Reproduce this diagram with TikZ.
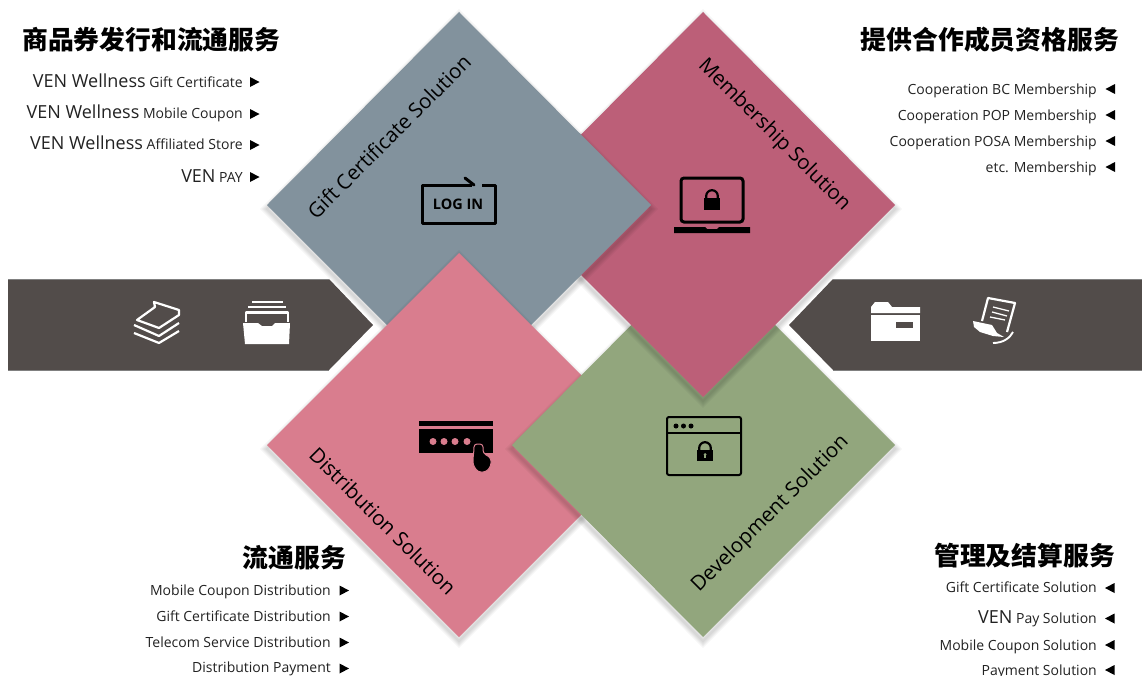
\documentclass[tikz,border=0pt]{standalone}
\usepackage{fontspec}
\setmainfont{Open Sans}
\newfontfamily\cjk{Noto Sans CJK SC}
\definecolor{cblue}{HTML}{82929D}
\definecolor{ccrim}{HTML}{BC5F78}
\definecolor{cpink}{HTML}{D97D8E}
\definecolor{cgreen}{HTML}{92A67D}
\definecolor{cband}{HTML}{524C4A}
\definecolor{ctext}{HTML}{222222}
\newcommand{\BG}[1]{{\fontsize{18}{18}\selectfont #1}}
\newcommand{\SM}[1]{{\fontsize{14}{14}\selectfont #1}}
\newcommand{\softedge}[1]{\foreach \w in {2,4,...,10}{\draw[black,draw opacity=.03,line width=\w pt,shift={(0,4)}] #1;}}
\newcommand{\arrR}[2]{\fill[black] (#1,#2-5) -- (#1+9.5,#2) -- (#1,#2+5) -- cycle;}
\newcommand{\arrL}[2]{\fill[black] (#1+9.5,#2-5) -- (#1,#2) -- (#1+9.5,#2+5) -- cycle;}
\newcommand{\lockicon}[5]{% x0 y0 x1 y1 colour
  \fill[#5] (#1,#2) rectangle (#3,#4);
  \draw[#5,line width=2.2pt] (#1+2.2,#2) -- (#1+2.2,#2-2) arc[start angle=180,end angle=360,radius={(#3-#1)/2-2.2}] -- (#3-2.2,#2);}
\tikzset{
  x=1pt,y=-1pt,
  listitem/.style={anchor=base east,inner sep=0pt,text=ctext,font=\fontsize{14}{14}\selectfont},
  titletext/.style={inner sep=0pt,text=black,font=\cjk\bfseries\fontsize{25.8}{26}\selectfont},
  soltext/.style={inner sep=0pt,text=black,font=\fontsize{20.5}{21}\selectfont},
  whiteline/.style={white,line width=2.2pt,line join=round},
  blackline/.style={black,line width=3pt,line join=round}
}
\begin{document}
\begin{tikzpicture}
\useasboundingbox (0,0) rectangle (1142,675);
\fill[white] (0,0) rectangle (1142,675);
% bands
\fill[cband] (8,279) -- (329,279) -- (373,325) -- (329,370) -- (8,370) -- cycle;
\fill[cband] (1142,279) -- (833,279) -- (789,325) -- (833,370) -- (1142,370) -- cycle;
\draw[gray,line width=.7pt] (8,279) -- (329,279) (8,370) -- (329,370) (1142,279) -- (833,279) (1142,370) -- (833,370);
% blue
\softedge{(459,12) -- (651,205) -- (459,397) -- (267,205) -- cycle}
\fill[cblue] (459,12) -- (651,205) -- (459,397) -- (267,205) -- cycle;
% pink
\softedge{(459,253) -- (651,445) -- (459,637) -- (267,445) -- cycle}
\fill[cpink] (459,253) -- (651,445) -- (459,637) -- (267,445) -- cycle;
% green
\softedge{(703,253) -- (895,445) -- (703,637) -- (512,445) -- cycle}
\fill[cgreen] (703,253) -- (895,445) -- (703,637) -- (512,445) -- cycle;
% crimson: its shadow stays off the blue square
\begin{scope}
\clip (459,12) -- (651,205) -- (531,325) -- (660,455) -- (1000,455) -- (1000,-50) -- (459,-50) -- cycle;
\softedge{(703,12) -- (895,205) -- (703,397) -- (511,205) -- cycle}
\end{scope}
\fill[ccrim] (703,12) -- (895,205) -- (703,397) -- (511,205) -- cycle;
% blue over crimson
\begin{scope}
\clip (703,12) -- (895,205) -- (703,397) -- (511,205) -- cycle;
\softedge{(459,12) -- (651,205) -- (459,397) -- (267,205) -- cycle}
\end{scope}
\begin{scope}
\clip (703,9) -- (898,205) -- (703,400) -- (508,205) -- cycle;
\fill[cblue] (459,12) -- (651,205) -- (459,397) -- (267,205) -- cycle;
\end{scope}
% solution labels
\node[soltext,rotate=45] (solgift) at (389,136.5) {Gift Certificate Solution};
\node[soltext,rotate=-45] (solmem) at (774,135) {Membership Solution};
\node[soltext,rotate=-45] (soldist) at (383,521) {Distribution Solution};
\node[soltext,rotate=45] (soldev) at (770.5,514) {Development Solution};
% titles
\node[titletext,anchor=west] (t1) at (22,40) {商品券发行和流通服务};
\node[titletext,anchor=east] (t2) at (1119,40) {提供合作成员资格服务};
\node[titletext,anchor=east] (t3) at (346,558) {流通服务};
\node[titletext,anchor=east] (t4) at (1115,556) {管理及结算服务};
% top left list
\node[listitem] (a1) at (243,87) {\BG{VEN Wellness} \SM{Gift Certificate}};
\node[listitem] (a2) at (243,118) {\BG{VEN Wellness} \SM{Mobile Coupon}};
\node[listitem] (a3) at (243,149.5) {\BG{VEN Wellness} \SM{Affiliated Store}};
\node[listitem] (a4) at (243,182) {\BG{VEN} \SM{PAY}};
\arrR{250}{82}\arrR{250}{114}\arrR{250}{145}\arrR{250}{177}
% top right list
\node[listitem] (b1) at (1097,94) {Cooperation BC Membership};
\node[listitem] (b2) at (1097,120) {Cooperation POP Membership};
\node[listitem] (b3) at (1097,146) {Cooperation POSA Membership};
\node[listitem] (b4) at (1097,172) {etc. Membership};
\arrL{1105.5}{89}\arrL{1105.5}{115}\arrL{1105.5}{141}\arrL{1105.5}{167}
% bottom left list
\node[listitem] (c1) at (331,595) {Mobile Coupon Distribution};
\node[listitem] (c2) at (331,621) {Gift Certificate Distribution};
\node[listitem] (c3) at (331,647) {Telecom Service Distribution};
\node[listitem] (c4) at (331,672.5) {Distribution Payment};
\arrR{339.5}{590.5}\arrR{339.5}{616.5}\arrR{339.5}{642.5}\arrR{339.5}{668.5}
% bottom right list
\node[listitem] (d1) at (1097,592.5) {Gift Certificate Solution};
\node[listitem] (d2) at (1097,623) {\BG{VEN} Pay Solution};
\node[listitem] (d3) at (1097,650) {Mobile Coupon Solution};
\node[listitem] (d4) at (1097,675) {Payment Solution};
\arrL{1105}{588}\arrL{1105}{618.5}\arrL{1105}{645}\arrL{1105}{670}
% LOG IN icon
\draw[blackline] (472,185) -- (422,185) -- (422,223) -- (495,223) -- (495,185) -- (482,185);
\draw[blackline,line cap=round] (465,178) -- (474,185);
\node[inner sep=0pt,text=black,font=\bfseries\fontsize{14.5}{15}\selectfont] (login) at (458,204) {LOG IN};
% laptop icon
\draw[black,line width=3pt,rounded corners=3pt] (681,178) rectangle (743,222);
\fill[black] (674,227) -- (705,227) -- (707,229) -- (717,229) -- (719,227) -- (750,227) -- (750,233) -- (674,233) -- cycle;
\lockicon{704}{198}{720}{210}{black}
% card icon
\fill[black] (419,421) rectangle (493,425.5);
\fill[black] (419,429) rectangle (493,453);
\foreach \cx in {433,444,455,467}{\fill[cpink] (\cx,441.5) circle[radius=3.5];}
\fill[black,draw=cpink,line width=1pt,rounded corners=3pt] (474,450) -- (474,444) -- (483,444) -- (483,453) -- (491,458) -- (491,466) -- (486,472) -- (478,472) -- (473,465) -- (473,458) -- cycle;
% window icon
\draw[black,line width=2pt,rounded corners=2pt] (667,417) rectangle (741,475);
\draw[black,line width=1.5pt] (667,433) -- (741,433);
\foreach \cx in {676,683.5,691}{\fill[black] (\cx,426) circle[radius=2.5];}
\lockicon{697}{450}{713}{461}{black}
\fill[cgreen] (705,454.5) circle[radius=1.5];
\fill[cgreen] (704.4,455) rectangle (705.6,458);
% stack of paper icon
\draw[whiteline] (137,320) -- (155,307) -- (154,302) -- (179,310) -- (179,315) -- (159,328) -- cycle;
\draw[whiteline] (134,325) -- (159,336) -- (179,323);
\draw[whiteline] (134,333) -- (159,343) -- (179,331);
% tray icon
\draw[white,line width=2.6pt] (252,302) -- (283,302);
\draw[white,line width=2.6pt] (248,307) -- (286,307);
\draw[white,line width=2.6pt,line join=round] (246,322) -- (246,312.5) -- (288,312.5) -- (288,322);
\fill[white] (243,323) -- (258,323) -- (262,326) -- (272,326) -- (275,323) -- (290,323) -- (289,344) -- (245,344) -- cycle;
% folder icon
\fill[white] (871,313) -- (871,307) -- (875,302) -- (888,302) -- (892,307) -- (920,307) -- (920,313) -- cycle;
\fill[white] (871,315) rectangle (920,341);
\fill[cband] (896,322) rectangle (913,328);
% document icon
\draw[whiteline] (982,321) -- (988,298) -- (1015,303) -- (1007,332);
\draw[white,line width=1.3pt] (993,307) -- (1009,311) (992,312) -- (1007,316) (990,317) -- (1005,320);
\fill[white] (973,321) -- (992,325) -- (997,333) -- (1004,337) -- (993,336) -- (980,332) -- (974,327) -- cycle;
\draw[white,line width=1.9pt] (993,343) .. controls (1003,343) and (1010,338) .. (1013,332);
\end{tikzpicture}
\end{document}
